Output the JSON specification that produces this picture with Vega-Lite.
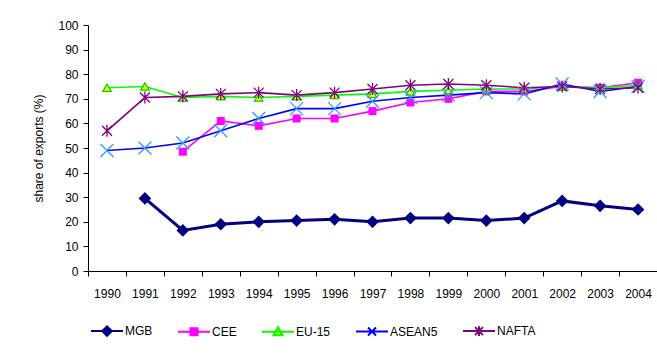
{
  "$schema": "https://vega.github.io/schema/vega-lite/v6.json",
  "width": 569,
  "height": 246,
  "autosize": {"type": "none"},
  "padding": {"left": 88, "top": 25, "right": 0, "bottom": 91},
  "background": "white",
  "config": {
    "view": {"stroke": null},
    "font": "Liberation Sans",
    "axis": {"labelFont": "Liberation Sans", "titleFont": "Liberation Sans", "labelColor": "black", "titleColor": "black", "domainColor": "black", "tickColor": "black", "grid": false}
  },
  "data": {"values": [
    {"year": "1991", "series": "MGB", "value": 29.5},
    {"year": "1992", "series": "MGB", "value": 16.5},
    {"year": "1993", "series": "MGB", "value": 19},
    {"year": "1994", "series": "MGB", "value": 20},
    {"year": "1995", "series": "MGB", "value": 20.5},
    {"year": "1996", "series": "MGB", "value": 21},
    {"year": "1997", "series": "MGB", "value": 20},
    {"year": "1998", "series": "MGB", "value": 21.5},
    {"year": "1999", "series": "MGB", "value": 21.5},
    {"year": "2000", "series": "MGB", "value": 20.5},
    {"year": "2001", "series": "MGB", "value": 21.5},
    {"year": "2002", "series": "MGB", "value": 28.5},
    {"year": "2003", "series": "MGB", "value": 26.5},
    {"year": "2004", "series": "MGB", "value": 25},
    {"year": "1992", "series": "CEE", "value": 48.5},
    {"year": "1993", "series": "CEE", "value": 61},
    {"year": "1994", "series": "CEE", "value": 59},
    {"year": "1995", "series": "CEE", "value": 62},
    {"year": "1996", "series": "CEE", "value": 62},
    {"year": "1997", "series": "CEE", "value": 65},
    {"year": "1998", "series": "CEE", "value": 68.5},
    {"year": "1999", "series": "CEE", "value": 70},
    {"year": "2000", "series": "CEE", "value": 73},
    {"year": "2001", "series": "CEE", "value": 73},
    {"year": "2002", "series": "CEE", "value": 75},
    {"year": "2003", "series": "CEE", "value": 74.5},
    {"year": "2004", "series": "CEE", "value": 76.5},
    {"year": "1990", "series": "EU-15", "value": 74.5},
    {"year": "1991", "series": "EU-15", "value": 75},
    {"year": "1992", "series": "EU-15", "value": 70.5},
    {"year": "1993", "series": "EU-15", "value": 71},
    {"year": "1994", "series": "EU-15", "value": 70.5},
    {"year": "1995", "series": "EU-15", "value": 71},
    {"year": "1996", "series": "EU-15", "value": 71.5},
    {"year": "1997", "series": "EU-15", "value": 72},
    {"year": "1998", "series": "EU-15", "value": 73},
    {"year": "1999", "series": "EU-15", "value": 73.5},
    {"year": "2000", "series": "EU-15", "value": 74},
    {"year": "2001", "series": "EU-15", "value": 74},
    {"year": "2002", "series": "EU-15", "value": 75},
    {"year": "2003", "series": "EU-15", "value": 74.5},
    {"year": "2004", "series": "EU-15", "value": 75.5},
    {"year": "1990", "series": "ASEAN5", "value": 49},
    {"year": "1991", "series": "ASEAN5", "value": 50},
    {"year": "1992", "series": "ASEAN5", "value": 52},
    {"year": "1993", "series": "ASEAN5", "value": 57},
    {"year": "1994", "series": "ASEAN5", "value": 62},
    {"year": "1995", "series": "ASEAN5", "value": 66},
    {"year": "1996", "series": "ASEAN5", "value": 66},
    {"year": "1997", "series": "ASEAN5", "value": 69},
    {"year": "1998", "series": "ASEAN5", "value": 70.5},
    {"year": "1999", "series": "ASEAN5", "value": 71.5},
    {"year": "2000", "series": "ASEAN5", "value": 72.5},
    {"year": "2001", "series": "ASEAN5", "value": 72},
    {"year": "2002", "series": "ASEAN5", "value": 76},
    {"year": "2003", "series": "ASEAN5", "value": 73},
    {"year": "2004", "series": "ASEAN5", "value": 75},
    {"year": "1990", "series": "NAFTA", "value": 57},
    {"year": "1991", "series": "NAFTA", "value": 70.5},
    {"year": "1992", "series": "NAFTA", "value": 71},
    {"year": "1993", "series": "NAFTA", "value": 72},
    {"year": "1994", "series": "NAFTA", "value": 72.5},
    {"year": "1995", "series": "NAFTA", "value": 71.5},
    {"year": "1996", "series": "NAFTA", "value": 72.5},
    {"year": "1997", "series": "NAFTA", "value": 74},
    {"year": "1998", "series": "NAFTA", "value": 75.5},
    {"year": "1999", "series": "NAFTA", "value": 76},
    {"year": "2000", "series": "NAFTA", "value": 75.5},
    {"year": "2001", "series": "NAFTA", "value": 74.5},
    {"year": "2002", "series": "NAFTA", "value": 75},
    {"year": "2003", "series": "NAFTA", "value": 74},
    {"year": "2004", "series": "NAFTA", "value": 74.5}
  ]},
  "encoding": {
    "x": {"field": "year", "type": "ordinal", "scale": {"paddingInner": 0, "paddingOuter": 0},
      "axis": {"title": null, "labelAngle": 0, "labelFontSize": 12, "labelPadding": 12, "tickBand": "extent", "tickSize": 5}},
    "y": {"field": "value", "type": "quantitative", "scale": {"domain": [0, 100], "nice": false},
      "axis": {"title": "share of exports (%)", "titleFontSize": 12, "titleFontWeight": "normal", "values": [0,10,20,30,40,50,60,70,80,90,100], "labelFontSize": 12, "tickSize": 5, "labelPadding": 5, "titlePadding": 12}}
  },
  "layer": [
    {
      "transform": [{"filter": "datum.series !== 'MGB'"}],
      "mark": {"type": "line", "strokeWidth": 1.6},
      "encoding": {
        "color": {"field": "series", "type": "nominal",
          "scale": {"domain": ["MGB", "CEE", "EU-15", "ASEAN5", "NAFTA"], "range": ["#000080", "#FF00FF", "#00FF00", "#0000FF", "#800080"]},
          "legend": {
            "title": null, "orient": "none", "direction": "horizontal", "legendX": 3, "legendY": 289,
            "labelFontSize": 12, "labelColor": "black", "symbolStrokeWidth": 2,
            "columnPadding": 21, "labelOffset": 1, "symbolOffset": -1, "padding": 0,
            "encode": {"symbols": {"update": {
              "size": {"value": 1024},
              "shape": {"signal": "datum.value === 'MGB' ? 'M-1,0H1M-0.3,0L0,-0.3L0.3,0L0,0.3Z' : datum.value === 'CEE' ? 'M-1,0H1M-0.22,-0.22H0.22V0.22H-0.22Z' : datum.value === 'EU-15' ? 'M-1,0H1M-0.28,0.22L0,-0.28L0.28,0.22Z' : datum.value === 'ASEAN5' ? 'M-1,0H1M-0.25,-0.25L0.25,0.25M-0.25,0.25L0.25,-0.25' : 'M-1,0H1M-0.25,-0.25L0.25,0.25M-0.25,0.25L0.25,-0.25M0,-0.3L0,0.3'"},
              "fill": {"signal": "datum.value === 'MGB' ? '#000080' : datum.value === 'CEE' ? '#FF00FF' : datum.value === 'EU-15' ? '#FFFF00' : 'transparent'"},
              "stroke": {"signal": "scale('color', datum.value)"}
            }}}
          }
        }
      }
    },
    {
      "transform": [{"filter": "datum.series === 'MGB'"}],
      "mark": {"type": "line", "strokeWidth": 3},
      "encoding": {"color": {"field": "series", "type": "nominal"}}
    },
    {
      "transform": [{"filter": "datum.series === 'MGB'"}],
      "mark": {"type": "point", "shape": "diamond", "filled": true, "color": "#000080", "opacity": 1, "size": 160}
    },
    {
      "transform": [{"filter": "datum.series === 'CEE'"}],
      "mark": {"type": "point", "shape": "square", "filled": true, "color": "#FF00FF", "opacity": 1, "size": 64}
    },
    {
      "transform": [{"filter": "datum.series === 'EU-15'"}],
      "mark": {"type": "point", "shape": "triangle-up", "fill": "#FFFF00", "stroke": "#00CC00", "strokeWidth": 1.2, "opacity": 1, "size": 70}
    },
    {
      "transform": [{"filter": "datum.series === 'ASEAN5'"}],
      "mark": {"type": "point", "shape": "M-1,-1L1,1M-1,1L1,-1", "filled": false, "stroke": "#3399FF", "strokeWidth": 1.3, "opacity": 1, "size": 169}
    },
    {
      "transform": [{"filter": "datum.series === 'NAFTA'"}],
      "mark": {"type": "point", "shape": "M-1,-1L1,1M-1,1L1,-1M0,-1.2L0,1.2", "filled": false, "stroke": "#800080", "strokeWidth": 1.3, "opacity": 1, "size": 100}
    }
  ]
}
